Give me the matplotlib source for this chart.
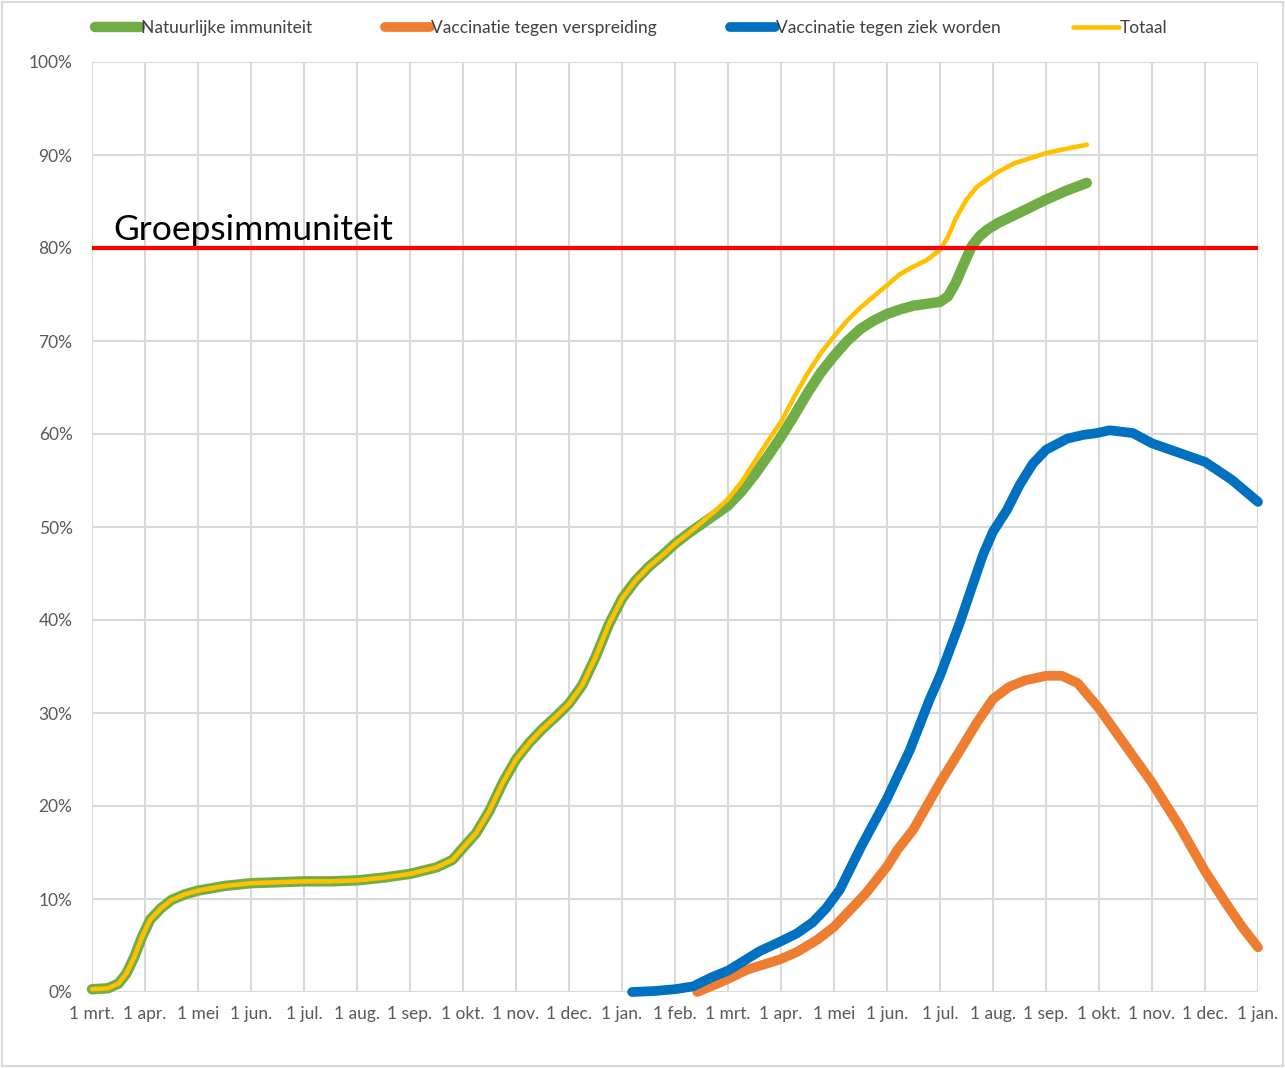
import matplotlib
matplotlib.use("Agg")
import matplotlib.pyplot as plt
from matplotlib.patches import Rectangle

plt.rcParams['font.family'] = ['Lato', 'DejaVu Sans']

# x = months since 1 mrt. 2020
month_labels = ["1 mrt.", "1 apr.", "1 mei", "1 jun.", "1 jul.", "1 aug.", "1 sep.", "1 okt.",
                "1 nov.", "1 dec.", "1 jan.", "1 feb.", "1 mrt.", "1 apr.", "1 mei", "1 jun.",
                "1 jul.", "1 aug.", "1 sep.", "1 okt.", "1 nov.", "1 dec.", "1 jan."]
y_ticks = [0, 10, 20, 30, 40, 50, 60, 70, 80, 90, 100]

nat_x = [0, 0.3, 0.5, 0.65, 0.8, 0.95, 1.1, 1.3, 1.5, 1.75, 2.0, 2.5, 3.0, 3.5, 4.0, 4.5, 5.0,
         5.5, 6.0, 6.5, 6.8, 7.0, 7.25, 7.5, 7.75, 8.0, 8.25, 8.5, 8.75, 9.0, 9.25, 9.5, 9.75,
         10.0, 10.25, 10.5, 10.75, 11.0, 11.25, 11.5, 11.75, 12.0, 12.25, 12.5, 12.75, 13.0,
         13.25, 13.5, 13.75, 14.0, 14.25, 14.5, 14.75, 15.0, 15.25, 15.5, 15.75, 16.0, 16.15,
         16.3, 16.45, 16.6, 16.75, 16.9, 17.1, 17.5, 18.0, 18.4, 18.77]
nat_y = [0.3, 0.4, 0.9, 2.0, 3.8, 6.0, 7.8, 9.0, 9.9, 10.5, 10.9, 11.4, 11.7, 11.8, 11.9, 11.9,
         12.0, 12.3, 12.7, 13.4, 14.2, 15.5, 17.1, 19.5, 22.5, 25.0, 26.8, 28.3, 29.6, 31.0,
         33.0, 36.0, 39.5, 42.3, 44.2, 45.7, 46.9, 48.2, 49.3, 50.3, 51.3, 52.3, 53.8, 55.6,
         57.6, 59.7, 62.0, 64.4, 66.6, 68.4, 70.0, 71.3, 72.2, 72.9, 73.4, 73.8, 74.0, 74.2,
         74.8, 76.3, 78.3, 80.2, 81.3, 82.0, 82.7, 83.8, 85.2, 86.2, 87.0]

tot_x = nat_x[:39] + [11.5, 11.75, 12.0, 12.25, 12.5, 12.75, 13.0, 13.25, 13.5, 13.75, 14.0,
                      14.25, 14.5, 14.75, 15.0, 15.25, 15.5, 15.75, 16.0, 16.15, 16.3, 16.5,
                      16.7, 16.9, 17.1, 17.4, 18.0, 18.4, 18.77]
tot_y = nat_y[:39] + [50.5, 51.7, 53.0, 54.8, 57.0, 59.2, 61.3, 64.0, 66.5, 68.7, 70.5, 72.2,
                      73.6, 74.8, 76.0, 77.2, 78.0, 78.7, 79.8, 81.2, 83.2, 85.2, 86.6, 87.4,
                      88.2, 89.1, 90.2, 90.7, 91.1]

vz_x = [10.19, 10.6, 11.0, 11.34, 11.7, 12.0, 12.23, 12.6, 12.98, 13.3, 13.6, 13.85, 14.11,
        14.5, 15.0, 15.43, 15.8, 16.0, 16.38, 16.6, 16.81, 17.0, 17.26, 17.5, 17.75, 18.0,
        18.4, 18.7, 18.96, 19.2, 19.64, 20.0, 20.5, 21.0, 21.5, 22.0]
vz_y = [0.0, 0.1, 0.3, 0.6, 1.6, 2.3, 3.1, 4.4, 5.4, 6.3, 7.5, 9.0, 11.0, 15.5, 20.8, 26.0,
        31.4, 34.0, 39.8, 43.5, 47.0, 49.5, 51.8, 54.5, 56.8, 58.3, 59.5, 59.9, 60.1, 60.4,
        60.1, 59.0, 58.0, 57.0, 55.1, 52.7]

vv_x = [11.42, 11.8, 12.0, 12.36, 12.7, 12.98, 13.3, 13.68, 14.0, 14.25, 14.6, 15.0, 15.2,
        15.5, 15.8, 16.0, 16.38, 16.7, 17.0, 17.3, 17.6, 18.0, 18.3, 18.6, 19.0, 19.5, 20.0,
        20.5, 21.0, 21.4, 21.7, 22.0]
vv_y = [0.0, 0.9, 1.4, 2.4, 3.0, 3.5, 4.3, 5.6, 7.0, 8.5, 10.6, 13.5, 15.3, 17.5, 20.5, 22.5,
        26.0, 29.0, 31.5, 32.8, 33.5, 34.0, 34.0, 33.2, 30.5, 26.5, 22.5, 18.0, 13.0, 9.5,
        7.0, 4.8]

threshold = 80

W, H = 1285, 1068
fig = plt.figure(figsize=(W / 100, H / 100), dpi=100)
fig.patches.append(Rectangle((2 / W, 2 / H), 1 - 4 / W, 1 - 4 / H, transform=fig.transFigure,
                             fill=False, edgecolor='#d9d9d9', linewidth=1.5))
ax = fig.add_axes([92 / W, 1 - 992 / H, (1258 - 92) / W, (992 - 62) / H])

grid_c = '#d9d9d9'
ax.set_xlim(0, len(month_labels) - 1)
ax.set_ylim(0, 100)
ax.set_xticks(range(len(month_labels)))
ax.set_xticklabels(month_labels)
ax.set_yticks(y_ticks)
ax.set_yticklabels([f"{v}%" for v in y_ticks])
ax.grid(True, color=grid_c, linewidth=1.5, zorder=0)
for s in ax.spines.values():
    s.set_visible(False)
ax.tick_params(length=0, colors='#595959', labelsize=12.5)
ax.tick_params(axis='x', pad=10)
ax.tick_params(axis='y', pad=14)

l1, = ax.plot(nat_x, nat_y, color='#70ad47', lw=7.5, solid_capstyle='round',
              solid_joinstyle='round', label='Natuurlijke immuniteit', zorder=3, clip_on=False)
l2, = ax.plot(vv_x, vv_y, color='#ed7d31', lw=7.0, solid_capstyle='round',
              solid_joinstyle='round', label='Vaccinatie tegen verspreiding', zorder=3, clip_on=False)
l3, = ax.plot(vz_x, vz_y, color='#0070c0', lw=7.0, solid_capstyle='round',
              solid_joinstyle='round', label='Vaccinatie tegen ziek worden', zorder=3, clip_on=False)
l4, = ax.plot(tot_x, tot_y, color='#ffc000', lw=3.3, solid_capstyle='round',
              solid_joinstyle='round', label='Totaal', zorder=4, clip_on=False)
ax.axhline(threshold, color='#ff0000', lw=3.0, zorder=5)
ax.text(0.4, threshold + 0.85, 'Groepsimmuniteit', fontsize=25.5, color='black',
        ha='left', va='baseline', zorder=6)

leg = fig.legend(handles=[l1, l2, l3, l4], loc='center', ncol=4,
                 bbox_to_anchor=(631 / W, 1 - 28 / H), frameon=False, fontsize=12.5,
                 handlelength=2.6, handletextpad=0.05, columnspacing=4.2)
for t in leg.get_texts():
    t.set_color('#404040')

fig.savefig('out.png', dpi=100)
